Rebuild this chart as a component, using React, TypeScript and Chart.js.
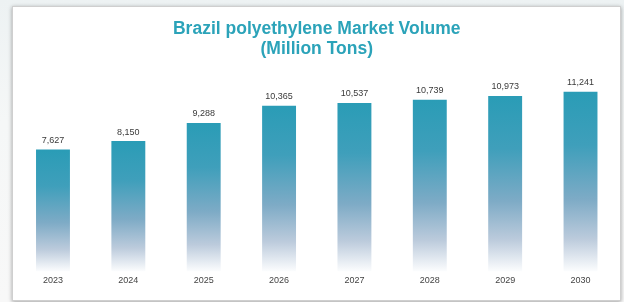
import React, { useEffect, useRef } from "react";
import { Chart, registerables } from "chart.js";

Chart.register(...registerables);

const TITLE_LINES = ["Brazil polyethylene Market Volume", "(Million Tons)"];
const YEARS = ["2023", "2024", "2025", "2026", "2027", "2028", "2029", "2030"];
const VOLUMES = [7627, 8150, 9288, 10365, 10537, 10739, 10973, 11241];

const FONT = "'Liberation Sans', Arial, Helvetica, sans-serif";

const valueLabels = {
  id: "valueLabels",
  afterDatasetsDraw(chart: any) {
    const ctx = chart.ctx;
    const meta = chart.getDatasetMeta(0);
    ctx.save();
    ctx.font = `9px ${FONT}`;
    ctx.fillStyle = "#3a3a3a";
    ctx.textAlign = "center";
    ctx.textBaseline = "middle";
    meta.data.forEach((bar: any, i: number) => {
      const v = chart.data.datasets[0].data[i] as number;
      ctx.fillText(v.toLocaleString("en-US"), bar.x, bar.y - 9);
    });
    ctx.restore();
  },
};

export default function App() {
  const ref = useRef<HTMLCanvasElement | null>(null);

  useEffect(() => {
    document.body.style.margin = "0";
    if (!ref.current) return;
    const chart = new Chart(ref.current, {
      type: "bar",
      data: {
        labels: YEARS,
        datasets: [
          {
            data: VOLUMES,
            barPercentage: 0.45,
            categoryPercentage: 1,
            borderWidth: 0,
            backgroundColor: (c: any) => {
              const ch = c.chart;
              const { chartArea, scales } = ch;
              if (!chartArea || !scales.y || c.raw == null) return "#2a9bb5";
              const top = scales.y.getPixelForValue(c.raw);
              const bottom = scales.y.getPixelForValue(0);
              const g = ch.ctx.createLinearGradient(0, top, 0, bottom);
              g.addColorStop(0, "#2a9cb6");
              g.addColorStop(0.3, "#3f9fbb");
              g.addColorStop(0.6, "#7eabc6");
              g.addColorStop(0.82, "#bccbdc");
              g.addColorStop(1, "#fcfdfe");
              return g;
            },
          },
        ],
      },
      options: {
        animation: false,
        responsive: false,
        devicePixelRatio: 1,
        layout: { padding: { left: 15.3, right: 5.8, top: 0, bottom: 11.7 } },
        plugins: {
          legend: { display: false },
          tooltip: { enabled: false },
          title: {
            display: true,
            text: TITLE_LINES,
            color: "#2ba3b9",
            font: { family: FONT, size: 17.5, weight: "bold", lineHeight: 20 / 17.5 },
            padding: { top: 19, bottom: 20.5 },
          },
        },
        scales: {
          x: {
            grid: { display: false, drawTicks: false },
            border: { display: false },
            ticks: {
              color: "#444",
              padding: 4,
              font: { family: FONT, size: 9 },
              maxRotation: 0,
              autoSkip: false,
            },
          },
          y: {
            display: false,
            min: 0,
            max: 12000,
          },
        },
      },
      plugins: [valueLabels],
    });
    return () => chart.destroy();
  }, []);

  return (
    <div
      style={{
        position: "fixed",
        left: 0,
        top: 0,
        width: 624,
        height: 302,
        background: "linear-gradient(180deg, #edf2f3 0%, #f5f7f7 40%, #f8f8f8 100%)",
        overflow: "hidden",
      }}
    >
      <div
        style={{
          position: "absolute",
          left: 12,
          top: 6,
          width: 607,
          height: 293,
          background: "#ffffff",
          border: "1px solid #cfcfcf",
          boxShadow: "0 1px 4px rgba(0,0,0,0.35)",
        }}
      />
      <canvas
        ref={ref}
        width={624}
        height={302}
        style={{ position: "absolute", left: 0, top: 0 }}
      />
    </div>
  );
}
